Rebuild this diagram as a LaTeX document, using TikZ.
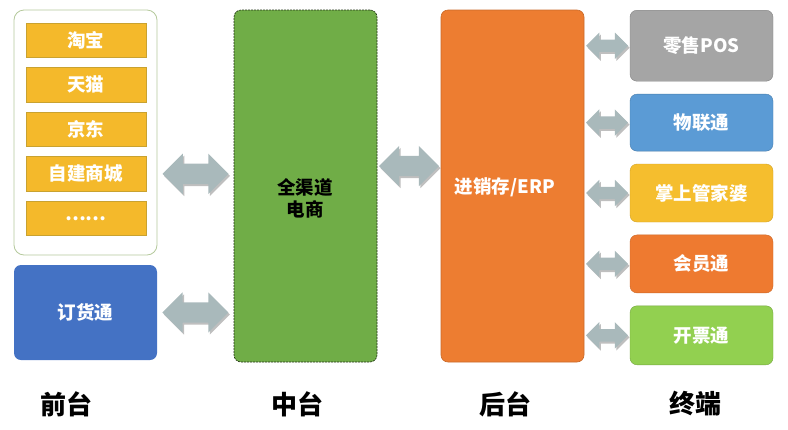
\documentclass[tikz,border=0pt]{standalone}
\usepackage{fontspec}
\setmainfont{Noto Sans CJK SC}
\usepackage{tikz}
\usetikzlibrary{matrix,shapes.arrows,shadows,calc}
\definecolor{shopyellow}{HTML}{F4B92B}
\definecolor{shopedge}{HTML}{C9A230}
\definecolor{frameedge}{HTML}{B5C99C}
\definecolor{orderblue}{HTML}{4472C4}
\definecolor{midgreen}{HTML}{70AD47}
\definecolor{backorange}{HTML}{ED7D31}
\definecolor{posgray}{HTML}{A5A5A5}
\definecolor{iotblue}{HTML}{5B9BD5}
\definecolor{mgryellow}{HTML}{F5BE2E}
\definecolor{memorange}{HTML}{EE7A30}
\definecolor{invgreen}{HTML}{92D050}
\definecolor{linkgray}{HTML}{A9B9BB}
\newcommand{\boxfont}{\bfseries\fontsize{18.5}{22}\selectfont}
\newcommand{\tierfont}{\bfseries\fontsize{26}{29}\selectfont}
\tikzset{
	box/.style={rounded corners=7pt, minimum width=143pt, inner sep=0pt, text=white, font=\boxfont},
	shopbox/.style={fill=shopyellow, draw=shopedge, line width=.6pt, minimum width=120pt, minimum height=34.5pt, inner sep=0pt, text=white, font=\boxfont},
	link/.style={double arrow, fill=linkgray, inner xsep=0pt, inner ysep=10pt, double arrow head extend=10pt, drop shadow={shadow xshift=1.5pt, shadow yshift=-2pt, opacity=.25, fill=black}},
	smalllink/.style={link, inner ysep=6pt, double arrow head extend=7pt, minimum height=42pt}
}

\begin{document}
\begin{tikzpicture}[x=1pt, y=-1pt]
			\useasboundingbox (0,0) rectangle (788,429);
			\node[box, draw=frameedge, line width=.8pt, fill=white, minimum height=245pt, rounded corners=10pt] (grp) at (85.5,132.5) {};
			\matrix (shop) [matrix of nodes, nodes={shopbox}, row sep=9.5pt, inner sep=0pt] at (86,129.25)
			{
				淘宝\\
				天猫\\
				京东\\
				自建商城\\
				……\\
			};
			\node[box, fill=orderblue, minimum height=95pt] (order) at (85.5,312.5) {订货通};
			\node[box, fill=midgreen, draw=black!70!midgreen, dash pattern=on 2pt off 1pt, line width=.6pt, minimum height=352pt] (zt) at (305.5,186) {};
			\node[font=\boxfont, align=center] (zt-label) at (305,198) {全渠道\\电商};
			\node[box, fill=backorange, draw=backorange!85!black, line width=.6pt, minimum height=352pt] (ht) at (512.5,186) {};
			\node[font=\boxfont, text=white] (ht-label) at (505,187) {进销存/ERP};
			\matrix (term) [matrix of nodes, nodes={box}, row sep=12.5pt, inner sep=0pt,
				row 1/.style={nodes={minimum height=71pt}}, row 2/.style={nodes={minimum height=57pt}},
				row 3/.style={nodes={minimum height=58pt}}, row 4/.style={nodes={minimum height=58pt}},
				row 5/.style={nodes={minimum height=59pt}}] at (701.5,187.5)
			{
				|[fill=posgray, draw=posgray!80!black]| 零售POS\\
				|[fill=iotblue, draw=iotblue!80!black]| 物联通\\
				|[fill=mgryellow, draw=mgryellow!85!black]| 掌上管家婆\\
				|[fill=memorange, draw=memorange!85!black]| 会员通\\
				|[fill=invgreen, draw=invgreen!80!black]| 开票通\\
			};
			\node[link, minimum height=66pt] (l1) at ($(grp.east |- shop-4-1)!.5!(zt.west |- shop-4-1)$) {};
			\node[link, minimum height=66pt] (l2) at ($(order.east)!.5!(zt.west |- order.east)$) {};
			\node[link, minimum height=60pt] (l3) at ($(zt.east |- 0,166)!.5!(ht.west |- 0,166)$) {};
			\foreach \i in {1,...,5}
				\node[smalllink] (r\i) at ($(ht.east |- term-\i-1)!.5!(term-\i-1.west)$) {};
			\node[font=\tierfont] (qt) at (67,404) {前台};
			\node[font=\tierfont] (zt-tier) at (297,404) {中台};
			\node[font=\tierfont] (ht-tier) at (505,404) {后台};
			\node[font=\tierfont] (zd) at (695,404) {终端};
		\end{tikzpicture}
\end{document}
